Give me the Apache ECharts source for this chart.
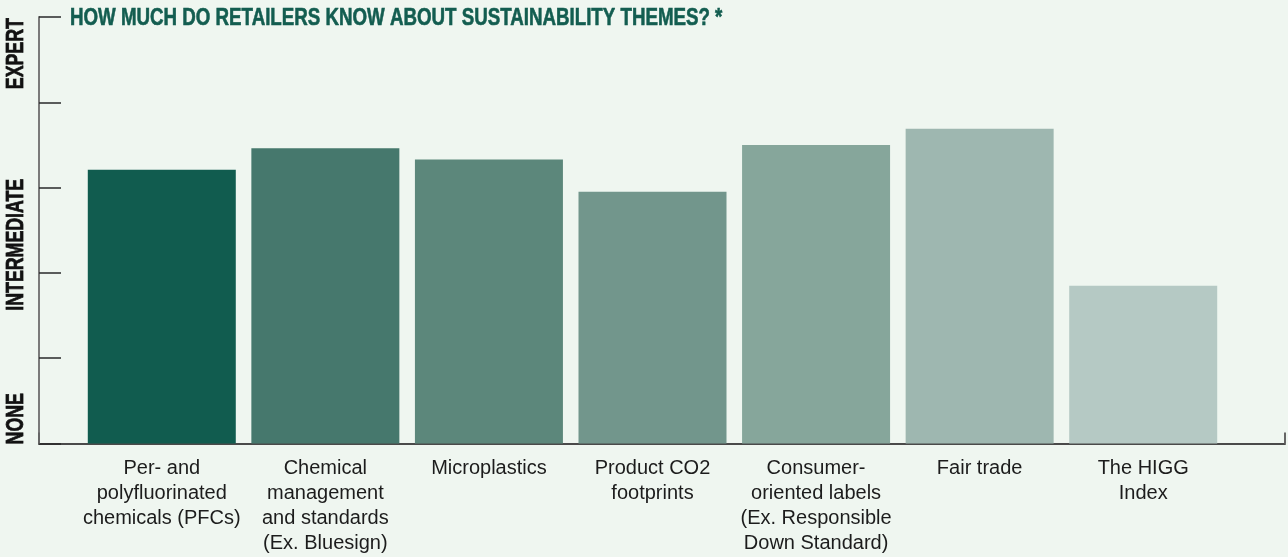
<!DOCTYPE html>
<html>
<head>
<meta charset="utf-8">
<script src="https://cdn.jsdelivr.net/npm/echarts@6/dist/echarts.min.js"></script>
<style>
  html, body { margin: 0; padding: 0; background: #eff6f0; }
  #chart { width: 1288px; height: 557px; }
</style>
</head>
<body>
<div id="chart"></div>
<script>
const categories = [
    'Per- and\npolyfluorinated\nchemicals (PFCs)',
    'Chemical\nmanagement\nand standards\n(Ex. Bluesign)',
    'Microplastics',
    'Product CO2\nfootprints',
    'Consumer-\noriented labels\n(Ex. Responsible\nDown Standard)',
    'Fair trade',
    'The HIGG\nIndex'
];
const knowledge = [3.21, 3.46, 3.33, 2.95, 3.50, 3.69, 1.85];
const levelLabels = ['NONE', 'INTERMEDIATE', 'EXPERT'];
const levelPositions = [0.29, 2.33, 4.57];
const titleText = 'HOW MUCH DO RETAILERS KNOW ABOUT SUSTAINABILITY THEMES? *';

const barColors = ['#115c4f', '#46786d', '#5c877b', '#72968c', '#86a69b', '#9eb7b0', '#b5c9c4'];

const chart = echarts.init(document.getElementById('chart'));

const option = {
    backgroundColor: '#eff6f0',
    animation: false,
    grid: [
        // bars
        { left: 80, right: 63, top: 17, bottom: 113.5 },
        // axis frame
        { left: 39, right: 3, top: 17, bottom: 113.5 }
    ],
    xAxis: [
        {
            type: 'category',
            gridIndex: 0,
            data: categories,
            axisLine: { show: false },
            axisTick: { show: false },
            axisLabel: {
                margin: 12,
                fontFamily: 'Liberation Sans',
                fontSize: 20,
                lineHeight: 25,
                color: '#1c1c1c',
                interval: 0
            }
        },
        {
            type: 'value',
            gridIndex: 1,
            min: 0,
            max: 1,
            interval: 1,
            splitLine: { show: false },
            axisLine: { show: true, lineStyle: { color: '#4a4a4a', width: 2 } },
            axisTick: { show: true, inside: true, length: 11, lineStyle: { color: '#666', width: 2 } },
            axisLabel: { show: false }
        }
    ],
    yAxis: [
        {
            type: 'value',
            gridIndex: 0,
            min: 0,
            max: 5,
            show: false
        },
        {
            type: 'value',
            gridIndex: 1,
            min: 0,
            max: 5,
            interval: 1,
            splitLine: { show: false },
            axisLine: { show: true, lineStyle: { color: '#7a7a7a', width: 2 } },
            axisTick: { show: true, inside: true, length: 22, lineStyle: { color: '#2a2a2a', width: 1.5 } },
            axisLabel: { show: false }
        }
    ],
    series: [
        {
            type: 'bar',
            xAxisIndex: 0,
            yAxisIndex: 0,
            data: knowledge,
            barWidth: 148,
            itemStyle: {
                color: (p) => barColors[p.dataIndex]
            }
        }
    ]
};

chart.setOption(option);

// condensed heavy texts: no condensed font installed, so squeeze a bold one
const graphics = [
    {
        type: 'text',
        x: 70,
        y: 18,
        scaleX: 0.78,
        style: {
            text: titleText,
            fontFamily: 'Liberation Sans',
            fontWeight: 'bold',
            fontSize: 24,
            fill: '#135d50',
            stroke: '#135d50',
            lineWidth: 0.6,
            textAlign: 'left',
            textVerticalAlign: 'middle'
        }
    }
];
levelLabels.forEach((lab, i) => {
    const py = chart.convertToPixel({ yAxisIndex: 1 }, levelPositions[i]);
    graphics.push({
        type: 'text',
        x: 16,
        y: py,
        rotation: Math.PI / 2,
        scaleX: 0.74,
        style: {
            text: lab,
            fontFamily: 'Liberation Sans',
            fontWeight: 'bold',
            fontSize: 24,
            fill: '#111',
            stroke: '#111',
            lineWidth: 0.8,
            textAlign: 'center',
            textVerticalAlign: 'middle'
        }
    });
});
chart.setOption({ graphic: graphics });
</script>
</body>
</html>
